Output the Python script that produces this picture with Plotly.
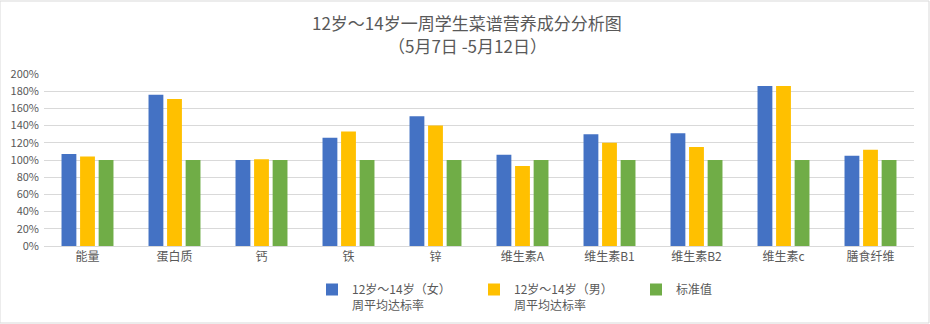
import plotly.graph_objects as go

categories = ["能量", "蛋白质", "钙", "铁", "锌", "维生素A", "维生素B1", "维生素B2", "维生素c", "膳食纤维"]
female = [107, 176, 100, 126, 151, 106, 130, 131, 186, 105]
male = [104, 171, 101, 133, 140, 93, 120, 115, 186, 112]
standard = [100, 100, 100, 100, 100, 100, 100, 100, 100, 100]
names = ["12岁～14岁（女）<br>周平均达标率", "12岁～14岁（男）<br>周平均达标率", "标准值"]
colors = ["#4472C4", "#FFC000", "#70AD47"]
title_lines = ["12岁～14岁一周学生菜谱营养成分分析图", "（5月7日 -5月12日）"]
tick_vals = [0, 20, 40, 60, 80, 100, 120, 140, 160, 180, 200]
tick_text = [f"{v}%" for v in tick_vals]

fig = go.Figure()
for vals, name, col in zip([female, male, standard], names, colors):
    fig.add_trace(go.Bar(x=categories, y=vals, name=name, marker_color=col,
                         marker_line_width=0))

font_family = "Noto Sans CJK SC, Noto Sans, sans-serif"
fig.update_layout(
    width=930, height=324,
    margin=dict(l=44, r=16, t=74, b=78, autoexpand=False),
    paper_bgcolor="white", plot_bgcolor="white",
    font=dict(family=font_family, color="#595959", size=12),
    barmode="group", bargap=0.36, bargroupgap=0.2,
    showlegend=True,
    legend=dict(orientation="h", x=(312 - 44) / 870, xanchor="left", y=-0.17, yanchor="top",
                font=dict(size=12, color="#595959"), itemwidth=30,
                entrywidth=117, entrywidthmode="pixels", valign="top",
                bgcolor="rgba(0,0,0,0)",
                traceorder="normal", itemclick=False),
    xaxis=dict(showline=True, linecolor="#d9d9d9", linewidth=1, ticks="",
               tickfont=dict(size=12, color="#595959")),
    yaxis=dict(range=[0, 200], tickvals=tick_vals, ticktext=tick_text,
               showgrid=True, gridcolor="#d9d9d9", gridwidth=1,
               zeroline=False, tickfont=dict(size=11, color="#595959"),
               ticklabelstandoff=4),
)
for i, line in enumerate(title_lines):
    fig.add_annotation(text=line, xref="paper", yref="paper", x=(467 - 44) / 870,
                       y=1 + (51 - 23 * i) / 172, xanchor="center", yanchor="middle",
                       showarrow=False, borderpad=0,
                       font=dict(size=17, color="#595959"))
fig.add_shape(type="rect", xref="paper", yref="paper",
              x0=-44/870, x1=1+15/870, y0=-77/172, y1=1+73/172,
              line=dict(color="#d9d9d9", width=1))

fig.write_html("out.html")
